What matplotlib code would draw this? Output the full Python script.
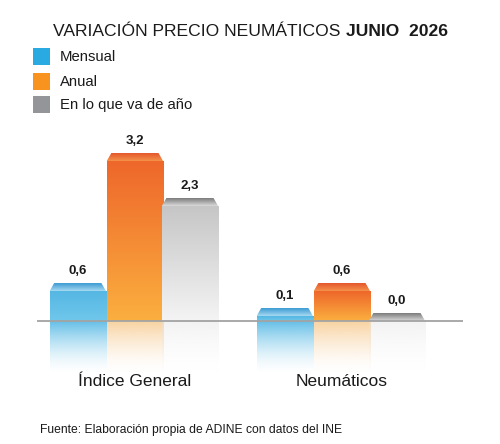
import matplotlib.pyplot as plt
import numpy as np
from matplotlib.colors import to_rgb
from matplotlib.patches import Polygon, Rectangle

plt.rcParams['font.family'] = ['Liberation Sans', 'DejaVu Sans']

categorias = ["Índice General", "Neumáticos"]
series = ["Mensual", "Anual", "En lo que va de año"]
mensual = [0.6, 0.1]
anual = [3.2, 0.6]
en_lo_que_va = [2.3, 0.0]
etiquetas = [["0,6", "0,1"], ["3,2", "0,6"], ["2,3", "0,0"]]

colores_legenda = ["#29ABE2", "#F7931E", "#939598"]
grad_top = ["#55B7E3", "#EE672B", "#C6C6C7"]
grad_bot = ["#70C7EB", "#FBAF3F", "#F4F4F4"]
cap_top = ["#3A9AD3", "#E4552A", "#7A7A7C"]
cap_bot = ["#A6D9F1", "#F4924A", "#DADADB"]
refl_col = ["#5DBCE6", "#F6C07A", "#E6E6E6"]
refl_alpha = [0.95, 0.7, 0.5]

fig = plt.figure(figsize=(5, 4.44), dpi=100)
ax = fig.add_axes([0.074, 0.1306, 0.852, 0.5518])
ax.set_xlim(-0.473, 1.585)
ax.set_ylim(-1.3, 3.6)
ax.axis("off")

x = np.arange(len(categorias))
w = 0.272
offs = [-0.276, 0.0, 0.266]
cap_h = 0.16
inset = 0.022


def gradiente(c_top, c_bot, n=100, a_top=1.0, a_bot=1.0, p=1.0):
    t = np.linspace(0, 1, n)[:, None]
    ct = np.array(to_rgb(c_top))
    cb = np.array(to_rgb(c_bot))
    rgb = ct * (1 - t) + cb * t
    a = a_bot + (a_top - a_bot) * (1 - t) ** p
    return np.hstack([rgb, a]).reshape(n, 1, 4)


for i, vals in enumerate([mensual, anual, en_lo_que_va]):
    bars = ax.bar(x + offs[i], vals, w, color="none", edgecolor="none")
    for j, b in enumerate(bars):
        x0, bw, h = b.get_x(), b.get_width(), b.get_height()
        if h > 0:
            ax.imshow(gradiente(grad_top[i], grad_bot[i]), extent=(x0, x0 + bw, 0, h),
                      aspect="auto", zorder=2, interpolation="bilinear")
        # reflejo
        ax.imshow(gradiente(refl_col[i], refl_col[i], a_top=refl_alpha[i], a_bot=0.0, p=1.6),
                  extent=(x0, x0 + bw, -1.05, 0),
                  aspect="auto", zorder=1, interpolation="bilinear")
        # tapa
        cap = Polygon([(x0, h), (x0 + bw, h), (x0 + bw - inset, h + cap_h), (x0 + inset, h + cap_h)],
                      closed=True, facecolor="none", edgecolor="none", zorder=3)
        ax.add_patch(cap)
        im = ax.imshow(gradiente(cap_top[i], cap_bot[i]), extent=(x0, x0 + bw, h, h + cap_h),
                       aspect="auto", zorder=3, interpolation="bilinear")
        im.set_clip_path(cap)
        ax.annotate(etiquetas[i][j], (x0 + bw / 2, h + cap_h), xytext=(0, 4),
                    textcoords="offset points", ha="center", va="bottom",
                    fontsize=9.5, fontweight="bold", color="#1a1a1a")

ax.axhline(0, color="#A3A3A3", lw=1.3, zorder=5)
ax.set_xlim(-0.473, 1.585)
ax.set_ylim(-1.3, 3.6)

for k, c in enumerate(categorias):
    ax.text(x[k], -1.2, c, ha="center", va="center", fontsize=12.5, color="#1a1a1a")

# título
t1 = fig.text(53 / 500, 1 - 32 / 444, "VARIACIÓN PRECIO NEUMÁTICOS ", fontsize=12.6,
              ha="left", va="center", color="#1a1a1a")
fig.canvas.draw()
bb = t1.get_window_extent()
fig.text(bb.x1 / fig.bbox.width + 0.002, 1 - 32 / 444, "JUNIO  2026", fontsize=12.6,
         fontweight="bold", ha="left", va="center", color="#1a1a1a")

# leyenda
ys = [57, 81.5, 104.5]
for k, s in enumerate(series):
    fig.patches.append(Rectangle((33 / 500, 1 - (ys[k] + 8.5) / 444), 17 / 500, 17 / 444,
                                 transform=fig.transFigure, facecolor=colores_legenda[k],
                                 edgecolor="none"))
    fig.text(60 / 500, 1 - ys[k] / 444, s, fontsize=10.7, ha="left", va="center", color="#1a1a1a")

fig.text(40 / 500, 1 - 430 / 444, "Fuente: Elaboración propia de ADINE con datos del INE",
         fontsize=8.7, ha="left", va="center", color="#1a1a1a")

fig.savefig("out.png", dpi=100, facecolor="white")
